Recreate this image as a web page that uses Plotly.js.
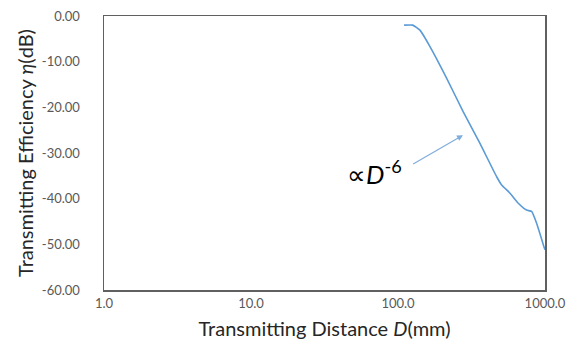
<!DOCTYPE html>
<html><head><meta charset="utf-8">
<script src="https://cdn.plot.ly/plotly-3.0.1.min.js"></script>
<style>html,body{margin:0;padding:0;background:#fff}#c{width:576px;height:350px}</style>
</head><body><div id="c"></div>
<script>
const distance = [110, 126, 141, 165, 214, 278, 361, 469, 507, 578, 658, 750, 811, 877, 985, 1000];
const efficiency = [-2.0, -2.0, -3.1, -6.7, -13.6, -21.0, -27.9, -35.2, -37.0, -38.8, -41.0, -42.5, -42.8, -45.4, -50.6, -51.2];
const xTicks = [1, 10, 100, 1000];
const yTicks = [0, -10, -20, -30, -40, -50, -60];

const font = "Lato, 'Open Sans', sans-serif";
const trace = {x: distance, y: efficiency, mode: 'lines', line: {color: '#5B9BD5', width: 1.6, shape: 'spline', smoothing: 0.4}, hoverinfo: 'skip'};
const layout = {
  width: 576, height: 350,
  margin: {l: 104, r: 31, t: 16, b: 60},
  paper_bgcolor: '#fff', plot_bgcolor: '#fff',
  showlegend: false,
  font: {family: font, color: '#404040'},
  xaxis: {type: 'log', range: [0, 3], tickvals: xTicks, ticktext: xTicks.map(v => v.toFixed(1)),
    showgrid: false, zeroline: false, showline: true, mirror: true, linecolor: '#606060', linewidth: 1.5,
    ticks: '', tickfont: {size: 13, color: '#595959'}, ticklabelstandoff: 1,
    title: {text: 'Transmitting Distance <i>D</i>(mm)', font: {size: 20, color: '#262626'}, standoff: 12}},
  yaxis: {range: [-60, 0], tickvals: yTicks, ticktext: yTicks.map(v => v.toFixed(2)),
    showgrid: false, zeroline: false, showline: true, mirror: true, linecolor: '#606060', linewidth: 1.5,
    ticks: '', tickfont: {size: 13, color: '#595959'}, ticklabelstandoff: 20,
    title: {text: 'Transmitting Efficiency <i>η</i>(dB)', font: {size: 20, color: '#262626'}, standoff: 3}},
  annotations: [
    {x: 2.442, y: -26.1, xref: 'x', yref: 'y', ax: 2.093, ay: -32.6, axref: 'x', ayref: 'y',
     text: '', showarrow: true, arrowhead: 2, arrowsize: 1, arrowwidth: 1.2, arrowcolor: '#7FAEDC'},
    {x: 1.84, y: -34.3, xref: 'x', yref: 'y', showarrow: false,
     text: '∝<i>D</i><sup>-6</sup>', font: {size: 26, color: '#000', family: font}}
  ]
};
Plotly.newPlot('c', [trace], layout, {displayModeBar: false, staticPlot: true});
</script></body></html>
